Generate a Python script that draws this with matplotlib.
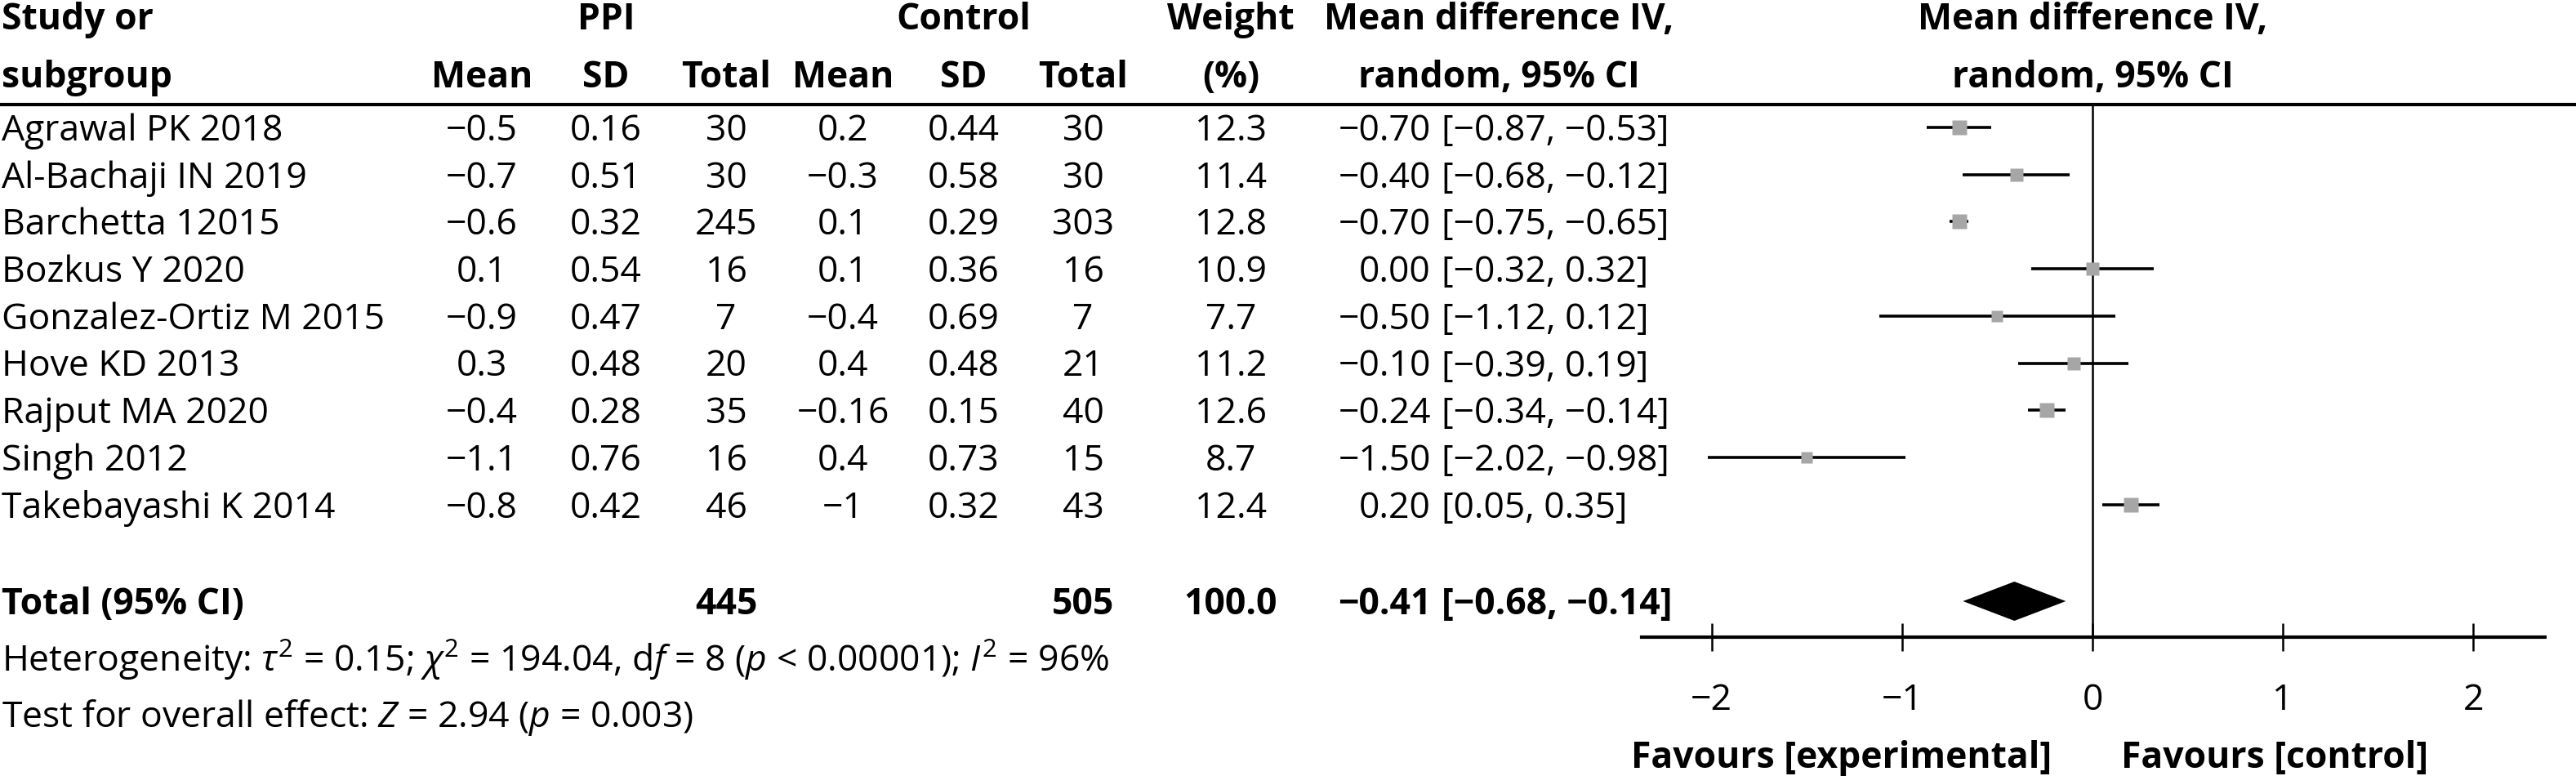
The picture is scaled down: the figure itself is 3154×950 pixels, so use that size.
import matplotlib
matplotlib.use("Agg")
import matplotlib.pyplot as plt
import numpy as np

# ---------------- data ----------------
studies = ["Agrawal PK 2018", "Al-Bachaji IN 2019", "Barchetta 12015", "Bozkus Y 2020",
           "Gonzalez-Ortiz M 2015", "Hove KD 2013", "Rajput MA 2020", "Singh 2012",
           "Takebayashi K 2014"]
ppi_mean = [-0.5, -0.7, -0.6, 0.1, -0.9, 0.3, -0.4, -1.1, -0.8]
ppi_sd = [0.16, 0.51, 0.32, 0.54, 0.47, 0.48, 0.28, 0.76, 0.42]
ppi_n = [30, 30, 245, 16, 7, 20, 35, 16, 46]
ctl_mean = [0.2, -0.3, 0.1, 0.1, -0.4, 0.4, -0.16, 0.4, -1]
ctl_sd = [0.44, 0.58, 0.29, 0.36, 0.69, 0.48, 0.15, 0.73, 0.32]
ctl_n = [30, 30, 303, 16, 7, 21, 40, 15, 43]
weight = [12.3, 11.4, 12.8, 10.9, 7.7, 11.2, 12.6, 8.7, 12.4]
md = [-0.70, -0.40, -0.70, 0.00, -0.50, -0.10, -0.24, -1.50, 0.20]
md_lo = [-0.87, -0.68, -0.75, -0.32, -1.12, -0.39, -0.34, -2.02, 0.05]
md_hi = [-0.53, -0.12, -0.65, 0.32, 0.12, 0.19, -0.14, -0.98, 0.35]
total_ppi_n = 445
total_ctl_n = 505
total_weight = 100.0
total_md = -0.41
total_lo = -0.68
total_hi = -0.14
xticks = [-2, -1, 0, 1, 2]
heterogeneity = r"Heterogeneity: $\tau^2$ = 0.15; $\chi^2$ = 194.04, d$f$ = 8 ($p$ < 0.00001); $I^2$ = 96%"
overall = r"Test for overall effect: $Z$ = 2.94 ($p$ = 0.003)"

# ---------------- style ----------------
W, H, DPI = 3154, 950, 200
plt.rcParams['font.family'] = ['Open Sans', 'DejaVu Sans']
plt.rcParams['mathtext.fontset'] = 'custom'
plt.rcParams['mathtext.rm'] = 'Open Sans'
plt.rcParams['mathtext.it'] = 'Open Sans:italic'
plt.rcParams['mathtext.bf'] = 'Open Sans:bold'
FS = 16

ROW0, ROWH, BASE = 156, 57.7, 16
TOTAL_Y = 736
HDR1, HDR2 = 36, 107
RULE_Y = 128
AXIS_Y = 780
X_ZERO, X_UNIT = 2562, 233.2
AX_L, AX_R = 2010, 3116

C_PPI_M, C_PPI_SD, C_PPI_N = 590, 742, 889
C_CTL_M, C_CTL_SD, C_CTL_N = 1032, 1180, 1326
C_W = 1507
C_MD_HDR, C_MD_EST, C_MD_CI = 1835, 1752, 1765


def minus(s):
    return s.replace('-', '\u2212')


def g(v):
    return minus(f"{v:g}")


fig = plt.figure(figsize=(W / DPI, H / DPI), dpi=DPI)
tab = fig.add_axes([0, 0, 1, 1])
tab.set_xlim(0, W)
tab.set_ylim(H, 0)
tab.axis('off')


def T(x, y, s, ha='center', bold=False, **kw):
    tab.text(x, y, s, ha=ha, va='baseline', fontsize=FS,
             fontweight='bold' if bold else 'normal', **kw)


# headers
T(2, HDR1, "Study or", ha='left', bold=True)
T(2, HDR2, "subgroup", ha='left', bold=True)
T(C_PPI_SD, HDR1, "PPI", bold=True)
T(C_CTL_SD, HDR1, "Control", bold=True)
for x, s in [(C_PPI_M, "Mean"), (C_PPI_SD, "SD"), (C_PPI_N, "Total"),
             (C_CTL_M, "Mean"), (C_CTL_SD, "SD"), (C_CTL_N, "Total")]:
    T(x, HDR2, s, bold=True)
T(C_W, HDR1, "Weight", bold=True)
T(C_W, HDR2, "(%)", bold=True)
T(C_MD_HDR, HDR1, "Mean difference IV,", bold=True)
T(C_MD_HDR, HDR2, "random, 95% CI", bold=True)
T(X_ZERO, HDR1, "Mean difference IV,", bold=True)
T(X_ZERO, HDR2, "random, 95% CI", bold=True)
tab.axhline(RULE_Y, color='black', lw=1.5)

# rows
for i, name in enumerate(studies):
    yb = ROW0 + i * ROWH + BASE
    T(2, yb, name, ha='left')
    T(C_PPI_M, yb, g(ppi_mean[i]))
    T(C_PPI_SD, yb, g(ppi_sd[i]))
    T(C_PPI_N, yb, str(ppi_n[i]))
    T(C_CTL_M, yb, g(ctl_mean[i]))
    T(C_CTL_SD, yb, g(ctl_sd[i]))
    T(C_CTL_N, yb, str(ctl_n[i]))
    T(C_W, yb, f"{weight[i]:.1f}")
    T(C_MD_EST, yb, minus(f"{md[i]:.2f}"), ha='right')
    T(C_MD_CI, yb, minus(f"[{md_lo[i]:.2f}, {md_hi[i]:.2f}]"), ha='left')

yb = TOTAL_Y + BASE
T(2, yb, "Total (95% CI)", ha='left', bold=True)
T(C_PPI_N, yb, str(total_ppi_n), bold=True)
T(C_CTL_N, yb, str(total_ctl_n), bold=True)
T(C_W, yb, f"{total_weight:.1f}", bold=True)
T(C_MD_EST, yb, minus(f"{total_md:.2f}"), ha='right', bold=True)
T(C_MD_CI, yb, minus(f"[{total_lo:.2f}, {total_hi:.2f}]"), ha='left', bold=True)
T(2, 822, heterogeneity, ha='left')
T(2, 890, overall, ha='left')
T(2255, 940, "Favours [experimental]", bold=True)
T(2785, 940, "Favours [control]", bold=True)

# ---------------- forest ----------------
fax = fig.add_axes([AX_L / W, 1 - AXIS_Y / H, (AX_R - AX_L) / W, (AXIS_Y - RULE_Y) / H])
fax.set_xlim((AX_L - X_ZERO) / X_UNIT, (AX_R - X_ZERO) / X_UNIT)
fax.set_ylim(AXIS_Y, RULE_Y)
fax.patch.set_alpha(0)
for sp in ['top', 'left', 'right']:
    fax.spines[sp].set_visible(False)
fax.spines['bottom'].set_linewidth(1.5)
fax.set_yticks([])
fax.set_xticks(xticks)
fax.tick_params(axis='x', direction='inout', length=12, width=0.9, pad=14, labelsize=FS)
fax.axvline(0, color='black', lw=0.9)

ys = [ROW0 + i * ROWH for i in range(len(studies))]
for i in range(len(studies)):
    fax.plot([md_lo[i], md_hi[i]], [ys[i], ys[i]], color='black', lw=1.3, solid_capstyle='butt', zorder=2)
    fax.plot([md[i]], [ys[i]], marker='s', ms=1.75 * np.sqrt(weight[i]), color='#a6a6a6',
             mec='none', zorder=3)
hd = 24
fax.fill([total_lo, total_md, total_hi, total_md],
         [TOTAL_Y, TOTAL_Y - hd, TOTAL_Y, TOTAL_Y + hd], color='black', lw=0, zorder=3)

fig.savefig("out.png", dpi=DPI)
